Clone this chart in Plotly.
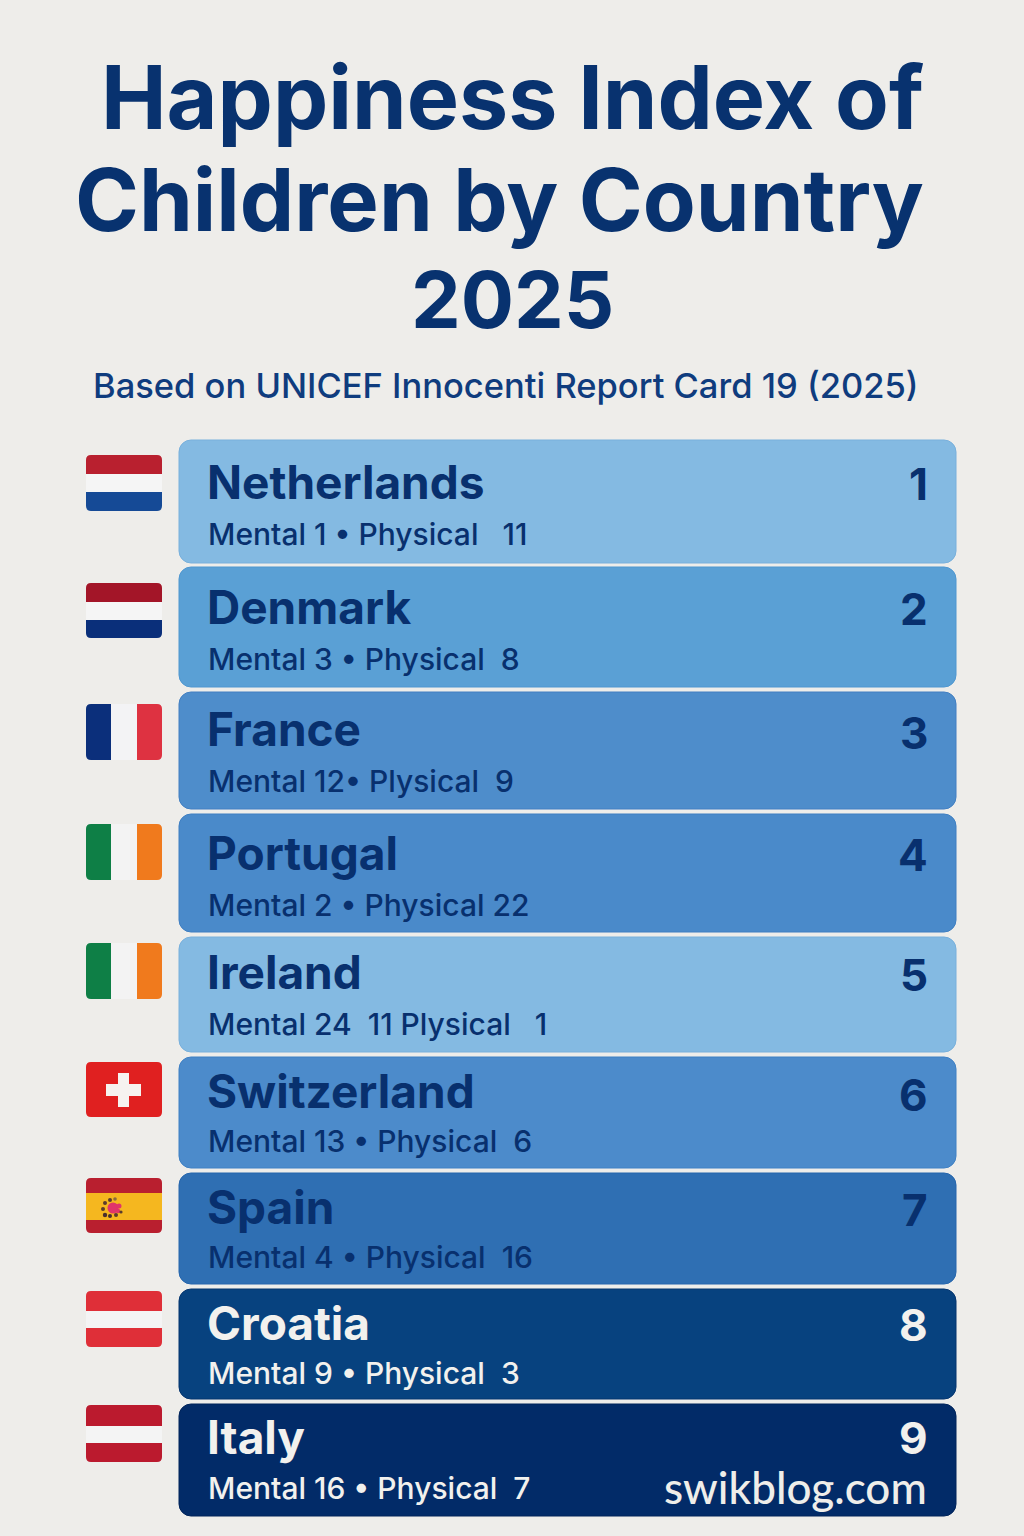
import plotly.graph_objects as go

# ranking rows
countries = ["Netherlands", "Denmark", "France", "Portugal", "Ireland",
             "Switzerland", "Spain", "Croatia", "Italy"]
ranks = [1, 2, 3, 4, 5, 6, 7, 8, 9]
details = [
    "Mental 1 • Physical\u00a0\u00a0 11",
    "Mental 3 • Physical\u00a0 8",
    "Mental 12• Plysical\u00a0 9",
    "Mental 2 • Physical 22",
    "Mental 24\u00a0 11 Plysical\u00a0\u00a0 1",
    "Mental 13 • Physical\u00a0 6",
    "Mental 4 • Physical\u00a0 16",
    "Mental 9 • Physical\u00a0 3",
    "Mental 16 • Physical\u00a0 7",
]
title_lines = ["Happiness Index of", "Children by Country", "2025"]
subtitle = "Based on UNICEF Innocenti Report Card 19 (2025)"
watermark = "swikblog.com"

# page layout, in pixels
W, H = 1024, 1536
row_top = [440, 567, 692, 814, 937, 1057, 1173, 1289, 1404]
row_bottom = [563, 687, 809, 932, 1052, 1168, 1284, 1399, 1516]
row_left, row_right = 179, 956
name_y = [482, 607, 729, 853, 972, 1091, 1207, 1323, 1437]
detail_y = [534, 659, 781, 905, 1024, 1141, 1257, 1373, 1488]
rank_y = [484, 609, 733, 855, 975, 1095, 1210, 1325, 1438]
row_colors = ["#84BAE2", "#5AA0D5", "#4E8DCB", "#4A8ACA", "#84BAE2",
              "#4C8BCB", "#2F6FB3", "#07427F", "#022B68"]
edge_colors = ["#78B0DC", "#4F97D0", "#427FC2", "#3F7FC2", "#78B0DC",
               "#3F80C4", "#2666AD", "#05356F", "#01245A"]
text_colors = ["#08306E"] * 7 + ["#F2F1EE"] * 2
BG = "#EEEDEA"
NAVY = "#08326F"
FONT = "Inter"

# flags: top, bottom, direction, stripe edges, stripe colours
flag_left, flag_right = 86, 162
flags = [
    (455, 511, "h", [474, 492], ["#B9202F", "#F5F5F5", "#154A96"]),
    (583, 638, "h", [602, 620], ["#A31528", "#F5F5F5", "#0A2F7A"]),
    (704, 760, "v", [111, 137], ["#0B2F7B", "#F3F3F5", "#DE3241"]),
    (824, 880, "v", [111, 137], ["#0E7F46", "#F3F3F3", "#F07A1D"]),
    (943, 999, "v", [111, 137], ["#0E7F46", "#F3F3F3", "#F07A1D"]),
    (1062, 1117, "h", [], ["#E02020"]),
    (1178, 1233, "h", [1193, 1220], ["#B91F2F", "#F5B71F", "#B91F2F"]),
    (1291, 1347, "h", [1311, 1328], ["#DF2F38", "#F4F4F4", "#DF2F38"]),
    (1405, 1462, "h", [1426, 1443], ["#BB1A2E", "#F4F4F4", "#BB1A2E"]),
]


def round_box(x0, y0, x1, y1, tl=0, tr=0, br=0, bl=0):
    # rectangle path with a radius per corner
    return (f"M{x0 + tl},{y0} L{x1 - tr},{y0} Q{x1},{y0} {x1},{y0 + tr} "
            f"L{x1},{y1 - br} Q{x1},{y1} {x1 - br},{y1} "
            f"L{x0 + bl},{y1} Q{x0},{y1} {x0},{y1 - bl} "
            f"L{x0},{y0 + tl} Q{x0},{y0} {x0 + tl},{y0} Z")


def flag_shapes(top, bottom, direction, edges, colors):
    out = []
    r = 5
    if direction == "h":
        cuts = [top] + edges + [bottom]
        for i, c in enumerate(colors):
            first, last = i == 0, i == len(colors) - 1
            path = round_box(flag_left, cuts[i], flag_right, cuts[i + 1],
                             r if first else 0, r if first else 0,
                             r if last else 0, r if last else 0)
            out.append(dict(type="path", path=path, fillcolor=c,
                            line_width=0, layer="above"))
    else:
        cuts = [flag_left] + edges + [flag_right]
        for i, c in enumerate(colors):
            first, last = i == 0, i == len(colors) - 1
            path = round_box(cuts[i], top, cuts[i + 1], bottom,
                             r if first else 0, r if last else 0,
                             r if last else 0, r if first else 0)
            out.append(dict(type="path", path=path, fillcolor=c,
                            line_width=0, layer="above"))
    return out


shapes = []
for f in flags:
    shapes += flag_shapes(*f)

# swiss cross
for x0, y0, x1, y1 in [(106, 1084, 141, 1096), (118, 1073, 129, 1107)]:
    shapes.append(dict(type="rect", x0=x0, y0=y0, x1=x1, y1=y1,
                       fillcolor="#F6F3F0", line_width=0, layer="above"))

# spanish emblem, a small blob with dots round it
for cx, cy, rad, c in [(113, 1208, 5.5, "#E0356A"), (119, 1206, 2.5, "#E0356A"),
                       (118, 1211, 2.2, "#E0356A"),
                       (105, 1203, 2, "#5A3B2E"), (110, 1200, 2, "#5A3B2E"),
                       (115, 1199, 1.8, "#8A6A3C"), (103, 1209, 2, "#5A3B2E"),
                       (105, 1215, 2.2, "#4A2F2E"), (110, 1216, 2, "#4A2F2E"),
                       (116, 1215, 2, "#5A3B2E"), (121, 1212, 1.6, "#5A3B2E")]:
    shapes.append(dict(type="circle", x0=cx - rad, x1=cx + rad, y0=cy - rad, y1=cy + rad,
                       fillcolor=c, line_width=0, layer="above"))

fig = go.Figure()

fig.add_trace(go.Bar(
    orientation="h",
    base=row_left,
    x=[row_right - row_left] * len(countries),
    y=[(a + b) / 2 for a, b in zip(row_top, row_bottom)],
    width=[b - a for a, b in zip(row_top, row_bottom)],
    marker=dict(color=row_colors, line=dict(width=1, color=edge_colors)),
    hoverinfo="skip",
))

annotations = []


def add_text(text, x, y, size, color, anchor="left", weight=400, family=FONT):
    annotations.append(dict(
        text=text, x=x, y=y, xref="x", yref="y", showarrow=False,
        xanchor=anchor, yanchor="middle",
        font=dict(family=family, size=size, color=color, weight=weight),
    ))


add_text(title_lines[0], 512.5, 97, 87.8, NAVY, "center", 700)
add_text(title_lines[1], 499.5, 199, 86.5, NAVY, "center", 700)
add_text(title_lines[2], 512.5, 299, 79, NAVY, "center", 700)
add_text(subtitle, 505.5, 385, 34.5, "#0F3C7E", "center", 500)

for i, name in enumerate(countries):
    add_text(name, 205, name_y[i], 46, text_colors[i], "left", 700)
    add_text(details[i], 206, detail_y[i], 30, text_colors[i], "left", 500)
    add_text(str(ranks[i]), 930, rank_y[i], 44, text_colors[i], "right", 700)

add_text(watermark, 929, 1487, 44, "#EFEEEA", "right", 500, "Lato")

fig.update_layout(
    width=W,
    height=H,
    margin=dict(l=0, r=0, t=0, b=0),
    paper_bgcolor=BG,
    plot_bgcolor=BG,
    showlegend=False,
    barcornerradius=12,
    shapes=shapes,
    annotations=annotations,
    xaxis=dict(range=[0, W], visible=False, fixedrange=True),
    yaxis=dict(range=[H, 0], visible=False, fixedrange=True),
)

fig.write_html("out.html", config={"displayModeBar": False},
               post_script="document.body.style.margin='0';")
